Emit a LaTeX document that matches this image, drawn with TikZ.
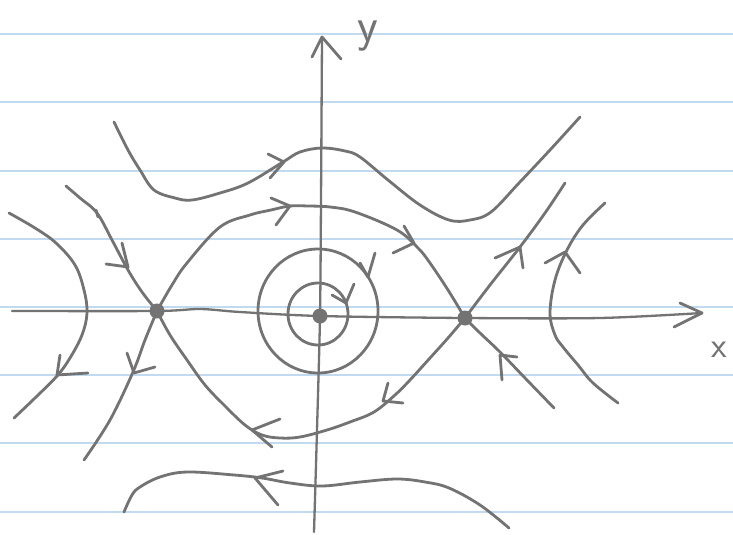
\documentclass[tikz,border=0pt]{standalone}
\usetikzlibrary{calc}
\definecolor{pencil}{HTML}{737373}
\definecolor{paperline}{HTML}{C2DAEF}
\tikzset{
  curve/.style={draw=pencil, line width=2.8pt, line cap=round, line join=round},
  axis/.style={draw=pencil, line width=2.3pt, line cap=round, line join=round},
  chev/.style={draw=pencil, line width=2.8pt, line cap=round, line join=round},
  ruled/.style={draw=paperline, line width=1.2pt},
  fixpt/.style={fill=pencil, draw=none}
}
\begin{document}
\begin{tikzpicture}[x=1pt,y=-1pt]
\useasboundingbox (0,0) rectangle (733,535);
\fill[white] (0,0) rectangle (733,535);
% ruled paper
\foreach \yy in {34,102,171,239,307,375,443,512}
  \draw[ruled] (0,\yy) -- (733,\yy);

% axes
\draw[axis] plot[smooth, tension=0.5] coordinates {(12,311) (157,311) (200,309) (240,312) (320,316) (465,318) (600,318) (702,313)};
\draw[chev] (680,303) -- (702,313) -- (674,327);
\draw[axis] plot[smooth, tension=0.5] coordinates {(314,532) (317,430) (320,316) (321,200) (322,37)};
\draw[chev] (312,57) -- (322,37) -- (341,59);
\node[text=pencil, inner sep=0pt, font=\fontsize{48}{48}\selectfont\sffamily, anchor=base] (ylab) at (368,42) {y};
\node[text=pencil, inner sep=0pt, font=\fontsize{36}{36}\selectfont\sffamily, anchor=base] (xlab) at (719,357) {x};

% closed orbits around centre
\draw[curve] (318,314) ellipse [x radius=30, y radius=31];
\draw[curve] (318,311) ellipse [x radius=60, y radius=62];
\draw[chev] (332,295) -- (346,303) -- (354,284);
\draw[chev] (360,263) -- (368,277) -- (375,253);

% top curve
\draw[curve] plot[smooth, tension=0.6] coordinates {(114,122) (128,150) (140,170) (154,190) (175,198) (192,200) (220,193) (248,183) (283,162) (300,152) (322,148) (345,151) (360,157) (388,180) (420,205) (449,220) (470,220) (491,212) (519,183) (550,150) (580,117)};
\draw[chev] (268,154) -- (284,162) -- (270,178);

% upper separatrix loop
\draw[curve] plot[smooth, tension=0.6] coordinates {(157,311) (172,285) (187,263) (220,227) (250,215) (271,210) (290,206) (308,206) (330,207) (355,212) (397,230) (418,248) (430,263) (448,290) (465,318)};
\draw[chev] (271,198) -- (290,206) -- (276,225);
\draw[chev] (404,226) -- (414,243) -- (393,253);

% lower separatrix loop
\draw[curve] plot[smooth, tension=0.6] coordinates {(157,311) (170,335) (187,360) (205,385) (224,405) (245,425) (262,435) (280,438) (300,437) (327,430) (350,422) (374,412) (395,395) (410,380) (430,358) (448,338) (465,318)};
\draw[chev] (280,419) -- (252,430) -- (272,447);
\draw[chev] (388,383) -- (383,401) -- (403,403);

% left saddle separatrices
\draw[curve] plot[smooth, tension=0.6] coordinates {(66,186) (80,198) (97,213) (112,240) (128,270) (142,292) (157,311)};
\draw[chev] (96,210) -- (98,217);
\draw[chev] (122,243) -- (128,267) -- (106,264);
\draw[curve] plot[smooth, tension=0.6] coordinates {(157,311) (145,340) (133,372) (110,420) (84,460)};
\draw[chev] (127,353) -- (134,373) -- (155,367);

% right saddle separatrices
\draw[curve] plot[smooth, tension=0.6] coordinates {(465,318) (490,285) (520,247) (545,213) (565,183)};
\draw[chev] (495,258) -- (520,247) -- (523,268);
\draw[curve] plot[smooth, tension=0.6] coordinates {(554,408) (525,378) (500,352) (480,333) (465,318)};
\draw[chev] (502,380) -- (500,355) -- (517,357);

% outer left and right curves
\draw[curve] plot[smooth, tension=0.6] coordinates {(9,213) (35,228) (56,243) (75,265) (84,290) (87,313) (82,335) (70,358) (57,376) (35,398) (14,418)};
\draw[chev] (60,355) -- (57,375) -- (88,373);
\draw[curve] plot[smooth, tension=0.6] coordinates {(605,203) (583,225) (567,250) (555,280) (550,313) (555,335) (563,347) (578,365) (593,383) (618,403)};
\draw[chev] (545,263) -- (565,252) -- (580,273);

% bottom curve
\draw[curve] plot[smooth, tension=0.6] coordinates {(124,512) (132,495) (140,487) (160,477) (187,472) (234,475) (262,478) (290,483) (322,486) (360,482) (397,479) (425,482) (449,488) (480,505) (509,528)};
\draw[chev] (283,471) -- (255,478) -- (278,505);

% fixed points
\fill[fixpt] (157,311) circle (7.5);
\fill[fixpt] (320,316) circle (7.5);
\fill[fixpt] (465,318) circle (7.5);
\end{tikzpicture}
\end{document}
